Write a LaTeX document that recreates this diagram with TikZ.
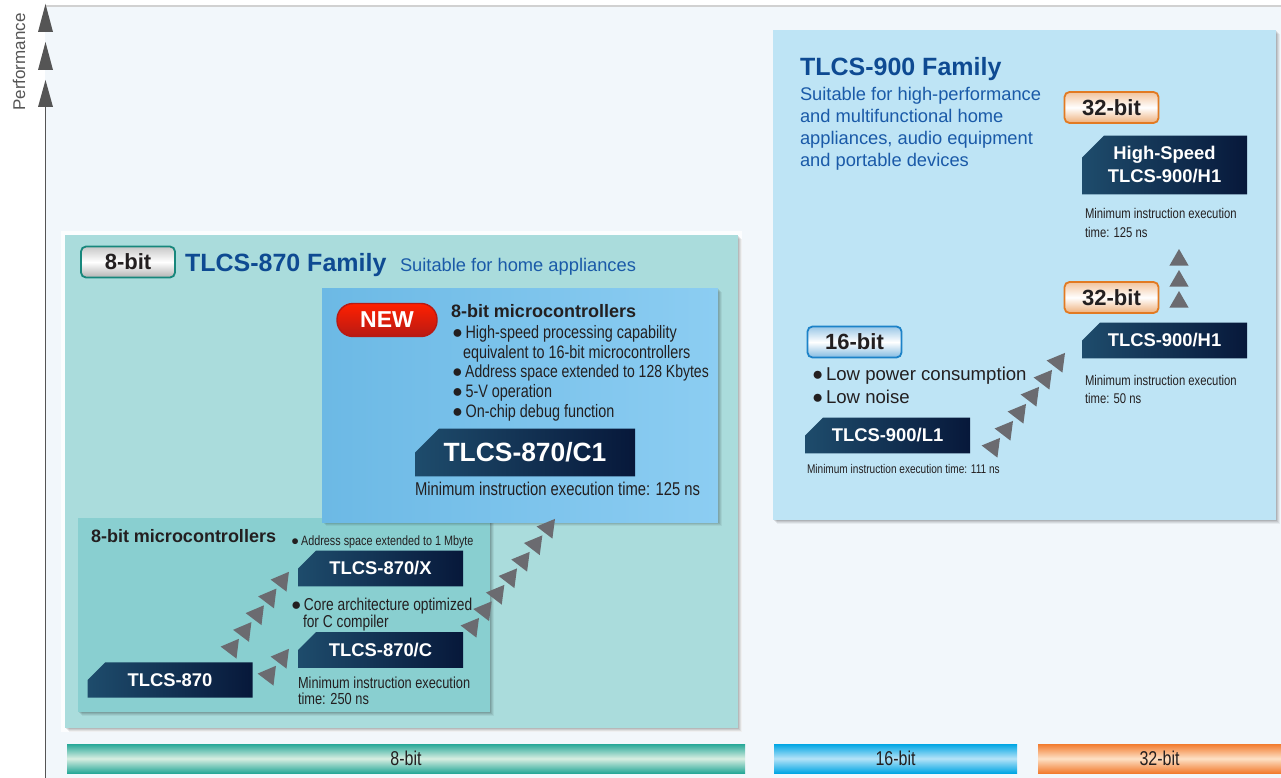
\documentclass[tikz,border=0pt]{standalone}
\usepackage{fontspec}
\setmainfont{Liberation Sans}
\newfontfamily\nar[FakeStretch=0.8]{Liberation Sans}
\usetikzlibrary{shapes.misc,shapes.geometric,calc}
\definecolor{bgpale}{HTML}{F2F7FB}
\definecolor{pOuter}{HTML}{AADCDC}
\definecolor{pLow}{HTML}{89CFD0}
\definecolor{pBlueL}{HTML}{6CB9E5}
\definecolor{pBlueR}{HTML}{8CCDF2}
\definecolor{p900}{HTML}{BEE4F5}
\definecolor{famblue}{HTML}{0E4A92}
\definecolor{descblue}{HTML}{1A5AA8}
\definecolor{navyL}{HTML}{1E4C6C}
\definecolor{navyR}{HTML}{07183A}
\definecolor{arrowgray}{HTML}{6B6B70}
\definecolor{axisgray}{HTML}{555555}
\definecolor{txt}{HTML}{231F20}
\definecolor{teal8}{HTML}{17877C}
\definecolor{blue16}{HTML}{1C82C8}
\definecolor{org32}{HTML}{E27A22}
\definecolor{newred}{HTML}{B81A14}
\definecolor{barteal}{HTML}{26A898}
\definecolor{barteallight}{HTML}{D8EEE2}
\definecolor{barblue}{HTML}{00A6E4}
\definecolor{barbluelight}{HTML}{B5E3F8}
\definecolor{barorg}{HTML}{F27B2E}
\definecolor{barorglight}{HTML}{FDE1C6}
\newcommand\bul{\textnormal{●}\hspace{0.15em}}
\newcommand\softshadow[4]{%
  \foreach \sh/\op in {1/0.10,2/0.08,3/0.07,4/0.05}{%
    \fill[black,opacity=\op] ({#1+\sh},{#2+\sh}) rectangle ({#3+\sh},{#4+\sh});}}
\tikzset{
  every node/.style={inner sep=0pt, outer sep=0pt},
  darkbox/.style={chamfered rectangle, chamfered rectangle corners=north west,
    chamfered rectangle xsep=11pt, chamfered rectangle ysep=11pt,
    left color=navyL, right color=navyR, text=white, align=center,
    font=\bfseries\fontsize{18.4}{23}\selectfont, minimum width=165pt, minimum height=34pt},
  badge/.style={rectangle, rounded corners=5pt, minimum width=94pt, minimum height=31pt,
    line width=1.8pt, text=txt, font=\bfseries\fontsize{22}{22}\selectfont},
  badgeA/.style={badge, draw=teal8, top color=black!22, bottom color=black!30, middle color=white},
  badgeB/.style={badge, draw=blue16, top color=blue16!45, bottom color=blue16!55, middle color=white},
  badgeC/.style={badge, draw=org32, top color=org32!45, bottom color=org32!60, middle color=white},
  newbadge/.style={rectangle, rounded corners=16pt, minimum width=100pt, minimum height=33pt,
    draw=newred, line width=1.4pt, top color=red!75!orange, middle color=orange!85!red,
    bottom color=newred, text=white, font=\bfseries\fontsize{23}{23}\selectfont},
  fam/.style={anchor=base west, text=famblue, font=\bfseries\fontsize{25}{25}\selectfont},
  desc/.style={anchor=base west, text=descblue, font=\fontsize{18.3}{22}\selectfont},
  head/.style={anchor=base west, text=txt, font=\bfseries\fontsize{18}{22}\selectfont},
  nt/.style={anchor=base west, text=txt, font=\nar\fontsize{#1}{#1}\selectfont},
  rt/.style={anchor=base west, text=txt, font=\fontsize{#1}{#1}\selectfont},
  chaintri/.style={regular polygon, regular polygon sides=3, fill=arrowgray,
    minimum size=23pt},
  bar/.style={rectangle, minimum height=29pt, text=txt, font=\nar\fontsize{20}{20}\selectfont},
}
\begin{document}
\begin{tikzpicture}[x=1pt,y=-1pt]
\useasboundingbox (0,0) rectangle (1281,778);
\fill[white] (0,0) rectangle (1281,778);
\fill[bgpale] (45,6) rectangle (1281,778);
\draw[black!18, line width=1.5pt] (45,6) -- (1281,6);

% performance axis
\draw[axisgray, line width=1.6pt] (45.5,100) -- (45.5,778);
\fill[axisgray] (38,32) -- (45.5,4) -- (53,32) -- cycle;
\fill[axisgray] (38,70) -- (45.5,42) -- (53,70) -- cycle;
\fill[axisgray] (38,107) -- (45.5,80) -- (53,107) -- cycle;
\node[rotate=90, text=axisgray, font=\fontsize{17}{17}\selectfont] (perf) at (19,62) {Performance};

% TLCS-900 panel
\softshadow{773}{30}{1276}{520}
\fill[p900] (773,30) rectangle (1276,520);

% TLCS-870 panel
\fill[white,opacity=0.8] (61,231) rectangle (742,732);
\softshadow{65}{235}{738}{728}
\fill[pOuter] (65,235) rectangle (738,728);

% lower 8-bit panel
\softshadow{78}{518}{490}{712}
\fill[pLow] (78,518) rectangle (490,712);

% C1 panel
\softshadow{322}{288}{718}{522}
\shade[left color=pBlueL, right color=pBlueR] (322,288) rectangle (718,522);

% 870 family heading
\node[badgeA] (b8) at (128,262) {8-bit};
\node[fam] (fam870) at (185,271) {TLCS-870 Family};
\node[desc] (suit870) at (400,271) {Suitable for home appliances};

% C1 block
\node[newbadge] (new) at (387,320) {NEW};
\node[head] (nm) at (451,317) {8-bit microcontrollers};
\node[nt=18] (nb1) at (452,338) {\bul High-speed processing capability};
\node[nt=18] (nb2) at (463,358) {equivalent to 16-bit microcontrollers};
\node[nt=17.5] (nb3) at (452,377.5) {\bul Address space extended to 128 Kbytes};
\node[nt=18] (nb4) at (452,397) {\bul 5-V operation};
\node[nt=18] (nb5) at (452,417) {\bul On-chip debug function};
\node[darkbox, minimum width=220pt, minimum height=45pt, chamfered rectangle xsep=14pt,
  chamfered rectangle ysep=14pt, font=\bfseries\fontsize{26.4}{26}\selectfont] (c1) at (525,452.5) {TLCS-870/C1};
\node[nt=18.5] (nmin) at (415,495) {Minimum instruction execution time: 125 ns};

% lower 8-bit block
\node[head] (m8) at (91,542) {8-bit microcontrollers};
\node[nt=13.5] (la1) at (291,545) {\bul Address space extended to 1 Mbyte};
\node[darkbox] (x) at (380.5,568.5) {TLCS-870/X};
\node[nt=17.2] (lc1) at (291,610) {\bul Core architecture optimized};
\node[nt=17.2] (lc2) at (303,627) {for C compiler};
\node[darkbox] (c) at (380.5,650) {TLCS-870/C};
\node[nt=16] (lm1) at (298,688) {Minimum instruction execution};
\node[nt=16] (lm2) at (298,704) {time: 250 ns};
\node[darkbox] (t870) at (170,680) {TLCS-870};

% TLCS-900 block
\node[fam] (fam900) at (800,76) {TLCS-900 Family};
\node[desc] (d1) at (800,101) {Suitable for high-performance};
\node[desc] (d2) at (800,123) {and multifunctional home};
\node[desc] (d3) at (800,145) {appliances, audio equipment};
\node[desc] (d4) at (800,167) {and portable devices};
\node[badgeC] (b32a) at (1111.5,107.5) {32-bit};
\node[darkbox, minimum height=58pt] (hs) at (1164.5,165) {High-Speed\\TLCS-900/H1};
\node[nt=14.1] (hm1) at (1085,218) {Minimum instruction execution};
\node[nt=14.1] (hm2) at (1085,237) {time: 125 ns};
\node[badgeC] (b32b) at (1111.5,297.5) {32-bit};
\node[darkbox] (h1) at (1164.5,340.5) {TLCS-900/H1};
\node[nt=14.1] (hm3) at (1085,385) {Minimum instruction execution};
\node[nt=14.1] (hm4) at (1085,403) {time: 50 ns};
\node[badgeB] (b16) at (854.5,342) {16-bit};
\node[rt=18.6] (lp1) at (812,380) {\bul Low power consumption};
\node[rt=18.6] (lp2) at (812,403) {\bul Low noise};
\node[darkbox] (l1) at (887.5,435.5) {TLCS-900/L1};
\node[nt=12.6] (lmin) at (807,473) {Minimum instruction execution time: 111 ns};

% chains of triangles
\coordinate (ca0) at (232,648); \coordinate (ca1) at (282,581);
\foreach \i in {0,...,4} \node[chaintri, rotate=-37] (ta\i) at ($(ca0)!\i/4!(ca1)$) {};
\coordinate (cb0) at (269,675); \coordinate (cb1) at (282,658);
\foreach \i in {0,1} \node[chaintri, rotate=-37] (tb\i) at ($(cb0)!\i!(cb1)$) {};
\coordinate (cc0) at (472,627); \coordinate (cc1) at (548,528);
\foreach \i in {0,...,6} \node[chaintri, rotate=-37.5] (tc\i) at ($(cc0)!\i/6!(cc1)$) {};
\coordinate (cd0) at (993,447); \coordinate (cd1) at (1058,362);
\foreach \i in {0,...,5} \node[chaintri, rotate=-37.5] (td\i) at ($(cd0)!\i/5!(cd1)$) {};
\coordinate (ce0) at (1179,302); \coordinate (ce1) at (1179,260);
\foreach \i in {0,1,2} \node[chaintri, minimum size=22pt] (te\i) at ($(ce0)!\i/2!(ce1)$) {};

% bottom bars
\node[bar, minimum width=678pt, top color=barteal, bottom color=barteal, middle color=barteallight] (bar8) at (406,758.5) {8-bit};
\node[bar, minimum width=243pt, top color=barblue, bottom color=barblue, middle color=barbluelight] (bar16) at (895.5,758.5) {16-bit};
\node[bar, minimum width=243pt, top color=barorg, bottom color=barorg, middle color=barorglight] (bar32) at (1159.5,758.5) {32-bit};
\end{tikzpicture}
\end{document}
